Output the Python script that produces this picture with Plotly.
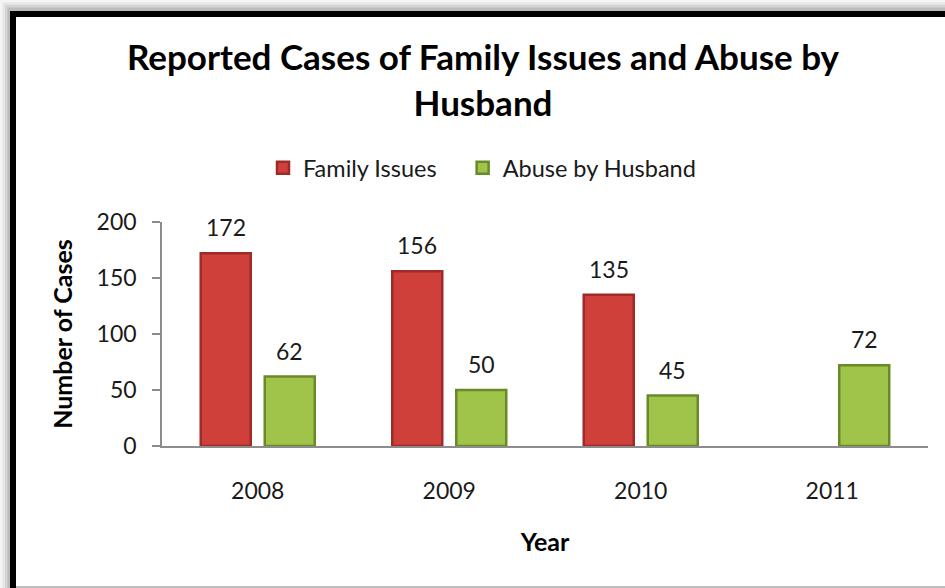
import plotly.graph_objects as go

# ---- data ----
years = ["2008", "2009", "2010", "2011"]
family_issues = [172, 156, 135, None]
abuse_by_husband = [62, 50, 45, 72]
y_ticks = [0, 50, 100, 150, 200]

W, H = 945, 588
L, R, T, B = 162, 17, 222, 142
plot_w = W - L - R
plot_h = H - T - B

FONT = "Lato"
TXT = "#1a1a1a"
NB = "\u00a0"

def px_x(px):
    return (px - L) / plot_w

def px_y(py):
    return (H - B - py) / plot_h

cat_px = plot_w / len(years)
bar_w = 50 / cat_px          # bar body width (category units)
half_gap = 7 / cat_px        # half of the gap between the two bars

series = [
    ("Family Issues" + NB * 3 + "\u2009", family_issues, -half_gap - bar_w, "#9E2B28", "#D0403B"),
    ("Abuse by Husband", abuse_by_husband, half_gap, "#6A8A2A", "#9FC449"),
]

fig = go.Figure()
for name, vals, off, dark, light in series:
    fig.add_trace(go.Bar(
        name=name, x=years, y=vals, width=bar_w, offset=off,
        marker=dict(color=light, line=dict(color=dark, width=2.5)),
    ))

# data labels above bars (x given as category index)
annotations = []
for name, vals, off, dark, light in series:
    for i, v in enumerate(vals):
        if v is None:
            continue
        annotations.append(dict(
            x=i + off + bar_w / 2, y=v, xref="x", yref="y", text=str(v), showarrow=False,
            yshift=10, yanchor="bottom",
            font=dict(family=FONT, size=23, color=TXT),
        ))

shapes = []
# shadow outside the frame
for i, col in enumerate(["#f4f4f4", "#e6e6e6", "#d4d4d4", "#bcbcbc"]):
    o = i * 2.5
    shapes.append(dict(type="rect", xref="paper", yref="paper", layer="below",
                       x0=px_x(o), x1=px_x(W + 20), y0=px_y(o), y1=px_y(H + 20),
                       line=dict(width=0), fillcolor=col))
# white panel
shapes.append(dict(type="rect", xref="paper", yref="paper", layer="below",
                   x0=px_x(13), x1=px_x(W + 20), y0=px_y(14), y1=px_y(H + 20),
                   line=dict(width=0), fillcolor="white"))
# black frame
shapes.append(dict(type="rect", xref="paper", yref="paper", layer="below",
                   x0=px_x(13), x1=px_x(W + 20), y0=px_y(14), y1=px_y(H + 20),
                   line=dict(width=6, color="black"), fillcolor="rgba(0,0,0,0)"))
# faint bottom line
shapes.append(dict(type="line", xref="paper", yref="paper", layer="below",
                   x0=px_x(16), x1=px_x(W + 20), y0=px_y(587), y1=px_y(587),
                   line=dict(width=1.5, color="#a8a8a8")))

fig.update_layout(
    width=W, height=H,
    margin=dict(l=L, r=R, t=T, b=B),
    paper_bgcolor="white", plot_bgcolor="rgba(0,0,0,0)",
    barmode="overlay",
    font=dict(family=FONT, color=TXT),
    title=dict(text="<b>Reported Cases of Family Issues and Abuse by<br>Husband</b>",
               x=px_x(483), xref="paper", xanchor="center",
               y=1 - 70 / H, yref="container", yanchor="top",
               font=dict(family=FONT, size=35, color="black")),
    legend=dict(orientation="h", x=px_x(263), y=px_y(168), xanchor="left", yanchor="middle",
                font=dict(family=FONT, size=23.5, color=TXT), bgcolor="rgba(0,0,0,0)"),
    showlegend=True,
    xaxis=dict(type="category", range=[-0.5, len(years) - 0.5], showline=True,
               linecolor="#8c8c8c", linewidth=1.5,
               ticks="", showgrid=False, ticklabelstandoff=24,
               tickfont=dict(family=FONT, size=23, color=TXT),
               title=dict(text="<b>Year</b>", standoff=30,
                          font=dict(family=FONT, size=25, color="black"))),
    yaxis=dict(range=[0, 200], tickvals=y_ticks, showline=True, linecolor="#8c8c8c",
               linewidth=1.5, ticks="outside", ticklen=8, tickcolor="#8c8c8c", tickwidth=1.5,
               showgrid=False, zeroline=False, ticklabelstandoff=11,
               tickfont=dict(family=FONT, size=23, color=TXT),
               title=dict(text="<b>Number of Cases</b>", standoff=17,
                          font=dict(family=FONT, size=25, color="black"))),
    annotations=annotations,
    shapes=shapes,
)

fig.write_html("out.html", config={"displayModeBar": False},
               post_script="document.body.style.margin='0';")
